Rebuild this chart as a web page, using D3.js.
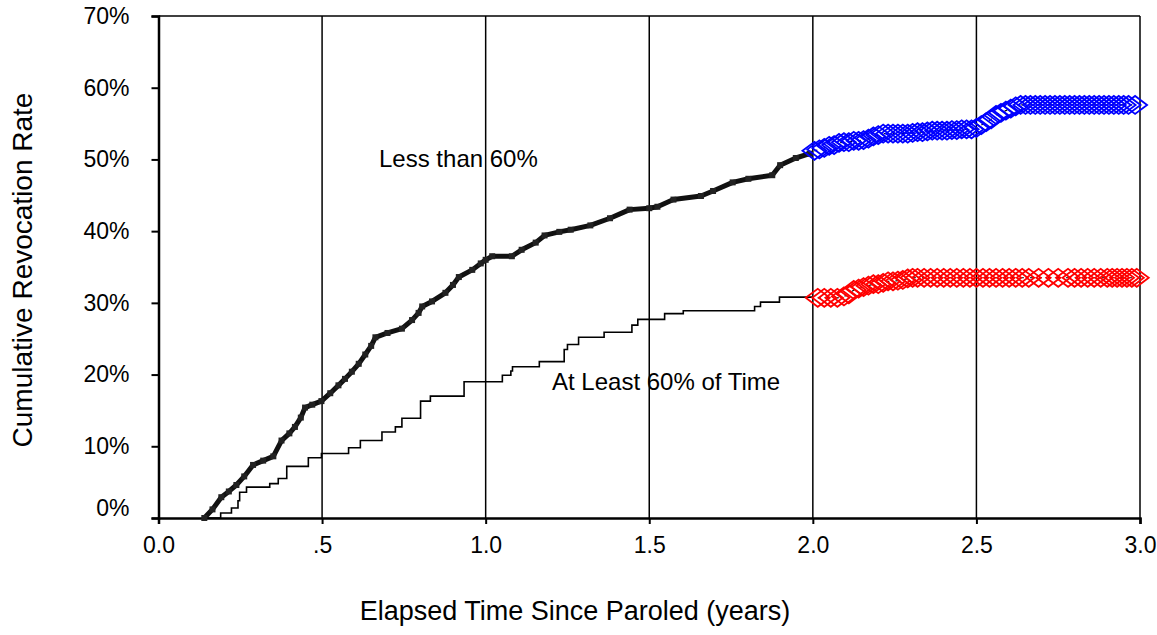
<!DOCTYPE html>
<html>
<head>
<meta charset="utf-8">
<script src="https://cdn.jsdelivr.net/npm/d3@7"></script>
<style>
    body { margin: 0; background: #fff; }
    text { font-family: Arial, "Liberation Sans", sans-serif; fill: #000; }
</style>
</head>
<body>
<div id="chart"></div>
<script>

// x ticks and labels
let xTicks = [0, 0.5, 1, 1.5, 2, 2.5, 3];
let xTickLabels = ["0.0", ".5", "1.0", "1.5", "2.0", "2.5", "3.0"];
let yTicks = [0, 0.1, 0.2, 0.3, 0.4, 0.5, 0.6, 0.7];

// "Less than 60%" group, years 0-2 (thick line)
let lessYears = [0.140, 0.165, 0.192, 0.215, 0.238, 0.262, 0.289, 0.320, 0.351, 0.376, 0.400, 0.417, 0.435, 0.448, 0.470,
    0.498, 0.525, 0.550, 0.570, 0.591, 0.612, 0.632, 0.650, 0.663, 0.700, 0.744, 0.775, 0.795, 0.806, 0.836, 0.877, 0.900,
    0.918, 0.959, 0.985, 1.000, 1.020, 1.080, 1.110, 1.153, 1.180, 1.225, 1.260, 1.320, 1.380, 1.440, 1.500, 1.525, 1.574,
    1.658, 1.695, 1.755, 1.803, 1.876, 1.900, 1.948, 1.990];
let lessRate = [0.000, 0.012, 0.029, 0.037, 0.046, 0.058, 0.074, 0.080, 0.086, 0.108, 0.118, 0.127, 0.140, 0.154, 0.158,
    0.163, 0.174, 0.185, 0.194, 0.204, 0.215, 0.228, 0.240, 0.252, 0.258, 0.264, 0.276, 0.286, 0.295, 0.302, 0.314, 0.325,
    0.336, 0.346, 0.355, 0.360, 0.365, 0.365, 0.374, 0.384, 0.394, 0.399, 0.402, 0.408, 0.418, 0.430, 0.432, 0.434, 0.444,
    0.449, 0.456, 0.468, 0.473, 0.478, 0.492, 0.502, 0.508];

// "At Least 60% of Time" group, years 0-2 (thin step line)
let leastYears = [0.150, 0.190, 0.223, 0.243, 0.248, 0.269, 0.340, 0.366, 0.392, 0.458, 0.498, 0.581, 0.617, 0.683, 0.724,
    0.744, 0.801, 0.831, 0.934, 1.051, 1.077, 1.082, 1.164, 1.240, 1.250, 1.284, 1.362, 1.447, 1.465, 1.547, 1.604, 1.822,
    1.840, 1.898, 2.000];
let leastRate = [0.000, 0.007, 0.014, 0.024, 0.036, 0.043, 0.048, 0.055, 0.072, 0.084, 0.090, 0.098, 0.108, 0.120, 0.127,
    0.139, 0.163, 0.170, 0.190, 0.199, 0.205, 0.211, 0.218, 0.235, 0.242, 0.252, 0.259, 0.269, 0.277, 0.285, 0.289, 0.295,
    0.301, 0.308, 0.308];

// year 2-3 projections (diamonds)
let lessYears2 = [2.005, 2.020, 2.035, 2.050, 2.065, 2.080, 2.095, 2.110, 2.125, 2.140, 2.155, 2.170, 2.185, 2.200, 2.215,
    2.230, 2.245, 2.260, 2.275, 2.290, 2.305, 2.320, 2.335, 2.350, 2.365, 2.380, 2.395, 2.410, 2.425, 2.440, 2.455, 2.470,
    2.485, 2.500, 2.515, 2.530, 2.545, 2.560, 2.575, 2.590, 2.605, 2.620, 2.635, 2.650, 2.665, 2.680, 2.695, 2.710, 2.725,
    2.740, 2.755, 2.770, 2.785, 2.800, 2.815, 2.830, 2.845, 2.860, 2.875, 2.890, 2.905, 2.920, 2.935, 2.950, 2.965, 2.985];
let lessRate2 = [0.512, 0.514, 0.516, 0.519, 0.520, 0.523, 0.524, 0.524, 0.526, 0.526, 0.527, 0.529, 0.532, 0.534, 0.536,
    0.536, 0.536, 0.536, 0.536, 0.536, 0.537, 0.538, 0.538, 0.539, 0.540, 0.540, 0.540, 0.540, 0.541, 0.541, 0.542, 0.542,
    0.542, 0.544, 0.548, 0.552, 0.556, 0.562, 0.565, 0.568, 0.571, 0.574, 0.576, 0.576, 0.576, 0.576, 0.576, 0.576, 0.576,
    0.576, 0.576, 0.576, 0.576, 0.576, 0.576, 0.576, 0.576, 0.576, 0.576, 0.576, 0.576, 0.576, 0.576, 0.576, 0.576, 0.576];

let leastYears2 = [2.015, 2.035, 2.055, 2.075, 2.095, 2.110, 2.125, 2.140, 2.155, 2.170, 2.185, 2.200, 2.215, 2.230, 2.245,
    2.260, 2.275, 2.290, 2.305, 2.320, 2.340, 2.360, 2.380, 2.400, 2.420, 2.440, 2.460, 2.480, 2.500, 2.520, 2.540, 2.560,
    2.580, 2.600, 2.620, 2.640, 2.660, 2.690, 2.720, 2.750, 2.780, 2.800, 2.820, 2.840, 2.860, 2.880, 2.900, 2.915, 2.930,
    2.945, 2.960, 2.975, 2.990];
let leastRate2 = [0.307, 0.307, 0.307, 0.307, 0.309, 0.312, 0.318, 0.320, 0.322, 0.324, 0.326, 0.326, 0.328, 0.330, 0.330,
    0.331, 0.332, 0.334, 0.335, 0.335, 0.335, 0.335, 0.335, 0.335, 0.335, 0.335, 0.335, 0.335, 0.335, 0.335, 0.335, 0.335,
    0.335, 0.335, 0.335, 0.335, 0.335, 0.335, 0.335, 0.335, 0.335, 0.335, 0.335, 0.335, 0.335, 0.335, 0.335, 0.335, 0.335,
    0.335, 0.335, 0.335, 0.335];

let margin = { top: 16, right: 17, bottom: 117, left: 158.5 };
let width = 1157 - margin.left - margin.right;
let height = 635 - margin.top - margin.bottom;

let svg = d3.select("#chart").append("svg")
    .attr("width", 1157)
    .attr("height", 635);

let g = svg.append("g")
    .attr("transform", "translate(" + margin.left + "," + margin.top + ")");

let x = d3.scaleLinear().domain([0, 3]).range([0, width]);
let y = d3.scaleLinear().domain([0, 0.7]).range([height, 0]);

let zip = (xs, ys) => xs.map((d, i) => ({ x: d, y: ys[i] }));
let lessData = zip(lessYears, lessRate);
let leastData = zip(leastYears, leastRate);
let lessData2 = zip(lessYears2, lessRate2);
let leastData2 = zip(leastYears2, leastRate2);

// vertical gridlines
g.selectAll(".grid")
    .data(xTicks.filter(d => d > 0 && d < 3))
    .enter().append("line")
    .attr("class", "grid")
    .attr("x1", d => x(d)).attr("x2", d => x(d))
    .attr("y1", 0).attr("y2", height)
    .attr("stroke", "#000")
    .attr("stroke-width", 1.5);

// frame top / right
g.append("line").attr("x1", 0).attr("x2", width).attr("y1", 0).attr("y2", 0)
    .attr("stroke", "#000").attr("stroke-width", 1.5);
g.append("line").attr("x1", width).attr("x2", width).attr("y1", 0).attr("y2", height)
    .attr("stroke", "#000").attr("stroke-width", 1.5);

// axes
let xAxis = d3.axisBottom(x).tickValues(xTicks)
    .tickFormat((d, i) => xTickLabels[i]).tickSize(6).tickPadding(8);
let yAxis = d3.axisLeft(y).tickValues(yTicks)
    .tickFormat(d3.format(".0%")).tickSize(7).tickPadding(22);

let gx = g.append("g").attr("transform", "translate(0," + height + ")").call(xAxis);
let gy = g.append("g").call(yAxis);

[gx, gy].forEach(a => {
    a.select(".domain").attr("stroke", "#000").attr("stroke-width", 2.5);
    a.selectAll(".tick line").attr("stroke", "#000").attr("stroke-width", 2);
    a.selectAll("text").style("font-size", "23px").attr("fill", "#000");
});
gx.selectAll(".tick text").attr("dy", "0.9em");
gy.selectAll(".tick text").filter(d => d === 0).attr("dy", "-0.1em");

// "at least" thin step line
let stepLine = d3.line()
    .x(d => x(d.x)).y(d => y(d.y))
    .curve(d3.curveStepAfter);

g.append("path")
    .attr("d", stepLine(leastData))
    .attr("fill", "none")
    .attr("stroke", "#000")
    .attr("stroke-width", 1.6);

// "less than" thick line
let line = d3.line()
    .x(d => x(d.x)).y(d => y(d.y));

g.append("path")
    .attr("d", line(lessData))
    .attr("fill", "none")
    .attr("stroke", "#111")
    .attr("stroke-width", 5)
    .attr("stroke-linejoin", "round");

// small square markers on the thick line
g.append("g").selectAll("rect")
    .data(lessData)
    .enter().append("rect")
    .attr("x", d => x(d.x) - 3)
    .attr("y", d => y(d.y) - 3)
    .attr("width", 6)
    .attr("height", 6)
    .attr("fill", "#222");

// dotted connector through projections
[lessData2, leastData2].forEach(data => {
    g.append("path")
        .attr("d", line(data))
        .attr("fill", "none")
        .attr("stroke", "#000")
        .attr("stroke-width", 1.2)
        .attr("stroke-dasharray", "3,6");
});

// diamonds
let diamond = "M-12,0L0,-9L12,0L0,9Z";
function drawDiamonds(data, color) {
    g.append("g").selectAll("path")
        .data(data)
        .enter().append("path")
        .attr("d", diamond)
        .attr("transform", d => "translate(" + x(d.x) + "," + y(d.y) + ")")
        .attr("fill", "none")
        .attr("stroke", color)
        .attr("stroke-width", 1.8);
}
drawDiamonds(lessData2, "#0000ff");
drawDiamonds(leastData2, "#ff0000");

// annotations
g.append("text")
    .attr("x", 379 - margin.left)
    .attr("y", 167 - margin.top)
    .style("font-size", "24px")
    .text("Less than 60%");

g.append("text")
    .attr("x", 552 - margin.left)
    .attr("y", 390 - margin.top)
    .style("font-size", "24px")
    .text("At Least 60% of Time");

// axis titles
svg.append("text")
    .attr("x", 575)
    .attr("y", 620)
    .style("text-anchor", "middle")
    .style("font-size", "27px")
    .text("Elapsed Time Since Paroled (years)");

svg.append("text")
    .attr("transform", "rotate(-90)")
    .attr("x", -270)
    .attr("y", 32)
    .style("text-anchor", "middle")
    .style("font-size", "28px")
    .text("Cumulative Revocation Rate");

</script>
</body>
</html>
